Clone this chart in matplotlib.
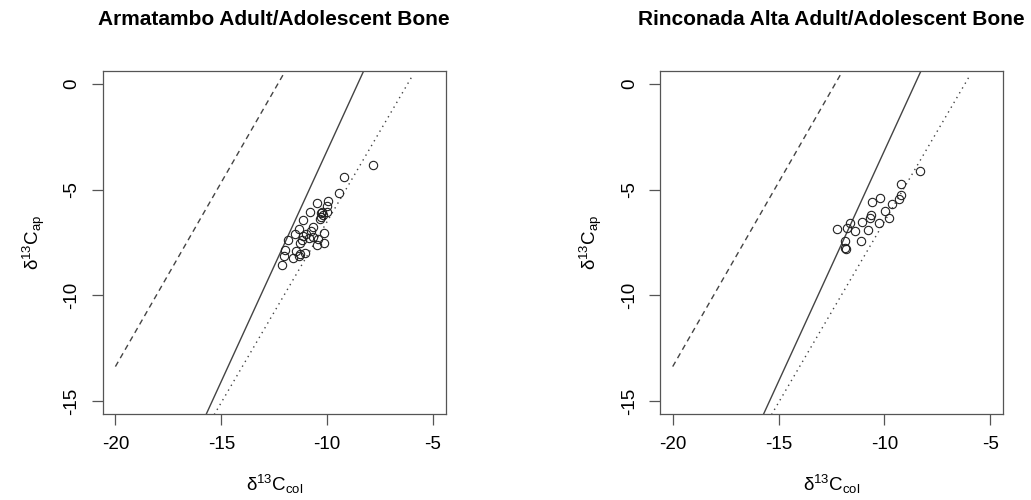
import matplotlib
matplotlib.use("Agg")
import matplotlib.pyplot as plt
import numpy as np

plt.rcParams["font.family"] = ["Liberation Sans", "DejaVu Sans"]
plt.rcParams["mathtext.fontset"] = "custom"
plt.rcParams["mathtext.rm"] = "Liberation Sans"
plt.rcParams["axes.unicode_minus"] = False

# collagen / apatite d13C values, Armatambo
arm_col = [-7.85, -9.20, -9.43, -9.97, -10.46, -10.01, -10.25, -10.80, -10.28, -10.20,
           -10.01, -11.15, -10.68, -11.32, -11.54, -11.12, -10.88, -10.65, -10.41, -10.17,
           -10.13, -11.85, -11.27, -10.46, -11.98, -11.46, -12.06, -11.32, -11.04, -12.14,
           -11.62, -10.35, -10.30, -11.00, -11.20, -10.75, -11.30]
arm_ap = [-3.82, -4.43, -5.14, -5.54, -5.65, -5.77, -6.04, -6.07, -6.29, -6.18,
          -6.04, -6.44, -6.75, -6.86, -7.10, -7.19, -7.30, -7.26, -7.35, -7.07,
          -7.54, -7.38, -7.54, -7.62, -7.86, -7.90, -8.14, -8.14, -8.01, -8.57,
          -8.25, -6.40, -6.10, -7.10, -7.40, -6.95, -8.05]

# collagen / apatite d13C values, Rinconada Alta
rin_col = [-8.33, -9.20, -9.20, -9.31, -9.62, -10.19, -10.58, -9.95, -9.78, -10.25,
           -10.64, -10.66, -11.05, -10.77, -11.12, -11.37, -11.64, -11.76, -12.26, -11.87,
           -11.84, -11.82]
rin_ap = [-4.10, -4.76, -5.28, -5.44, -5.66, -5.39, -5.58, -5.99, -6.35, -6.56,
          -6.18, -6.32, -6.51, -6.90, -7.44, -6.97, -6.60, -6.81, -6.84, -7.41,
          -7.75, -7.80]

titles = ["Armatambo Adult/Adolescent Bone", "Rinconada Alta Adult/Adolescent Bone"]

# reference lines: (slope, intercept, x range, style)
ref_lines = [
    (1.74, 21.44, (-20.0, -11.0), (0, (4, 3))),
    (2.18, 18.64, (-25.0, 0.0), "-"),
    (1.71, 10.59, (-20.0, -5.97), (0, (1, 3))),
]

fig = plt.figure(figsize=(10.31, 5.0), dpi=100)
W, H = 1031, 500
axes_px = [(102.7, 71, 343, 343), (660, 71, 343, 343)]
line_col = "#444444"

for (left, top, w, h), title, xs, ys in zip(axes_px, titles,
                                          [arm_col, rin_col], [arm_ap, rin_ap]):
    ax = fig.add_axes([left / W, 1 - (top + h) / H, w / W, h / H])
    for slope, icpt, (x0, x1), ls in ref_lines:
        xx = np.array([x0, x1])
        ax.plot(xx, slope * xx + icpt, color=line_col, lw=1.0, linestyle=ls)
    ax.plot(xs, ys, linestyle="none", marker="o", markersize=6,
            markerfacecolor="none", markeredgecolor="#222222", markeredgewidth=0.8)

    ax.set_xlim(-20.6, -4.4)
    ax.set_ylim(-15.6, 0.6)
    ax.set_xticks([-20, -15, -10, -5])
    ax.set_yticks([0, -5, -10, -15])
    ax.tick_params(length=8, width=0.9, color="#555555", labelsize=13.5, pad=8)
    for lab in ax.get_yticklabels():
        lab.set_rotation(90)
        lab.set_va("center")
    for sp in ax.spines.values():
        sp.set_color("#555555")
        sp.set_linewidth(0.9)

    ax.set_title(title, fontsize=15, fontweight="bold", pad=33)
    ax.set_xlabel(r"$\mathregular{\delta^{13}C_{col}}$", fontsize=13.5, labelpad=14)
    ax.set_ylabel(r"$\mathregular{\delta^{13}C_{ap}}$", fontsize=13.5, labelpad=12)

fig.savefig("out.png", dpi=100)
